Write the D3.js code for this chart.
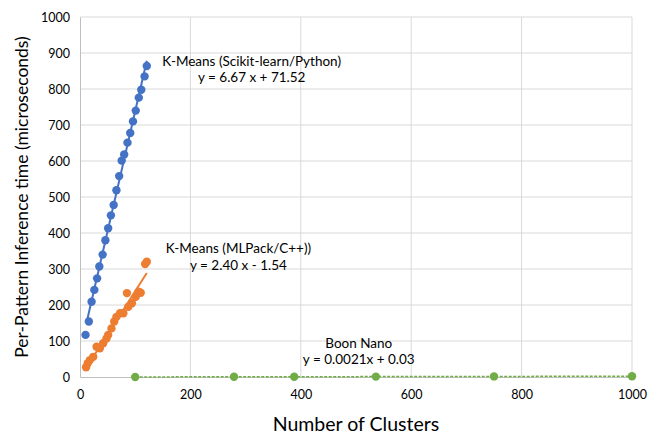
<!DOCTYPE html>
<html><head><meta charset="utf-8">
<script src="https://cdn.jsdelivr.net/npm/d3@7"></script>
<style>
body{margin:0;background:#fff;}
text{font-family:Lato,"Open Sans",sans-serif;fill:#000;}
</style></head>
<body><svg id="c" width="660" height="435"></svg>
<script>
// ---- data ----
const sklearnX = [10,16,21,26,31,35,41,46,51,56,61,66,71,75.5,80,86,91,96,101,106.5,111,117,121];
const sklearnY = [117,154,209,242,274,307,340,380,413,449,478,519,558,601,618,651,678,710,740,776,798,835,864];
const mlpackX = [11,14,18,24,30,36,42,48,51,57,62,66,72.5,78.5,85,87.5,94,101,106,110,118,121];
const mlpackY = [27,38,47,56,84,80,94,107,117,135,154,167,177,177,233,195,205,223,237,234,314,320];
const boonX = [100,279,388,536,750,1000];
const boonY = [0.2,0.6,0.8,1.1,1.6,2.1];
const xTicks = [0,200,400,600,800,1000];
const yTicks = [0,100,200,300,400,500,600,700,800,900,1000];
const fits = [
  {name:"K-Means (Scikit-learn/Python)", eq:"y = 6.67 x + 71.52", m:6.67, b:71.52, x0:13, x1:121},
  {name:"K-Means (MLPack/C++))", eq:"y = 2.40 x - 1.54", m:2.40, b:-1.54, x0:10, x1:121},
  {name:"Boon Nano", eq:"y = 0.0021x + 0.03", m:0.0021, b:0.03, x0:100, x1:1000}
];
const colors = ["#4472C4","#ED7D31","#70AD47"];

// ---- chart ----
const svg = d3.select("#c");
const L=80, T=17, W=552, H=360;
const x = d3.scaleLinear().domain([0,1000]).range([L,L+W]);
const y = d3.scaleLinear().domain([0,1000]).range([T+H,T]);

// gridlines
svg.append("g").selectAll("line").data(yTicks.slice(1)).join("line")
  .attr("x1",L).attr("x2",L+W).attr("y1",d=>y(d)).attr("y2",d=>y(d))
  .attr("stroke","#d9d9d9").attr("stroke-width",1);
svg.append("g").selectAll("line").data(xTicks.slice(1)).join("line")
  .attr("y1",T).attr("y2",T+H).attr("x1",d=>x(d)).attr("x2",d=>x(d))
  .attr("stroke","#d9d9d9").attr("stroke-width",1);

// axes
const xa = svg.append("g").attr("transform",`translate(0,${T+H})`)
  .call(d3.axisBottom(x).tickValues(xTicks).tickFormat(d3.format("d")).tickSize(0).tickPadding(13));
const ya = svg.append("g").attr("transform",`translate(${L},0)`)
  .call(d3.axisLeft(y).tickValues(yTicks).tickFormat(d3.format("d")).tickSize(0).tickPadding(10));
[xa,ya].forEach(a=>{
  a.select(".domain").attr("stroke","#bfbfbf").attr("stroke-width",1);
  a.selectAll("text").style("font-family","Lato").style("font-size","12.5px").attr("fill","#000");
});

// series
const series = [[sklearnX,sklearnY],[mlpackX,mlpackY],[boonX,boonY]];
svg.append("path").datum(d3.zip(boonX,boonY))
  .attr("d",d3.line().x(d=>x(d[0])).y(d=>y(d[1])))
  .attr("fill","none").attr("stroke",colors[2]).attr("stroke-width",1.5).attr("stroke-dasharray","3,1.5");

series.forEach((s,i)=>{
  svg.append("g").selectAll("circle").data(d3.zip(s[0],s[1])).join("circle")
    .attr("cx",d=>x(d[0])).attr("cy",d=>y(d[1])).attr("r",4.2)
    .attr("fill",colors[i]);
});
fits.forEach((f,i)=>{
  if(i===2) return;
  svg.append("line")
    .attr("x1",x(f.x0)).attr("y1",y(f.m*f.x0+f.b))
    .attr("x2",x(f.x1)).attr("y2",y(f.m*f.x1+f.b))
    .attr("stroke",colors[i]).attr("stroke-width",2);
});

// annotations (label positions in data units)
const labelPos = [[311,878],[287,357],[505,94]];
fits.forEach((f,i)=>{
  const g = svg.append("g").attr("transform",`translate(${x(labelPos[i][0])},${y(labelPos[i][1])})`);
  g.append("text").attr("text-anchor","middle").attr("dy","0.35em").style("font-size","13.5px").text(f.name);
  g.append("text").attr("text-anchor","middle").attr("y",16.5).attr("dy","0.35em").style("font-size","13.5px").text(f.eq);
});

// titles
svg.append("text").attr("x",L+W/2).attr("y",424).attr("dy","0.35em").attr("text-anchor","middle")
  .style("font-size","19.5px").text("Number of Clusters");
svg.append("text").attr("transform",`translate(22,${T+H/2}) rotate(-90)`).attr("dy","0.35em")
  .attr("text-anchor","middle").style("font-size","17.5px").text("Per-Pattern Inference time (microseconds)");
</script></body></html>
